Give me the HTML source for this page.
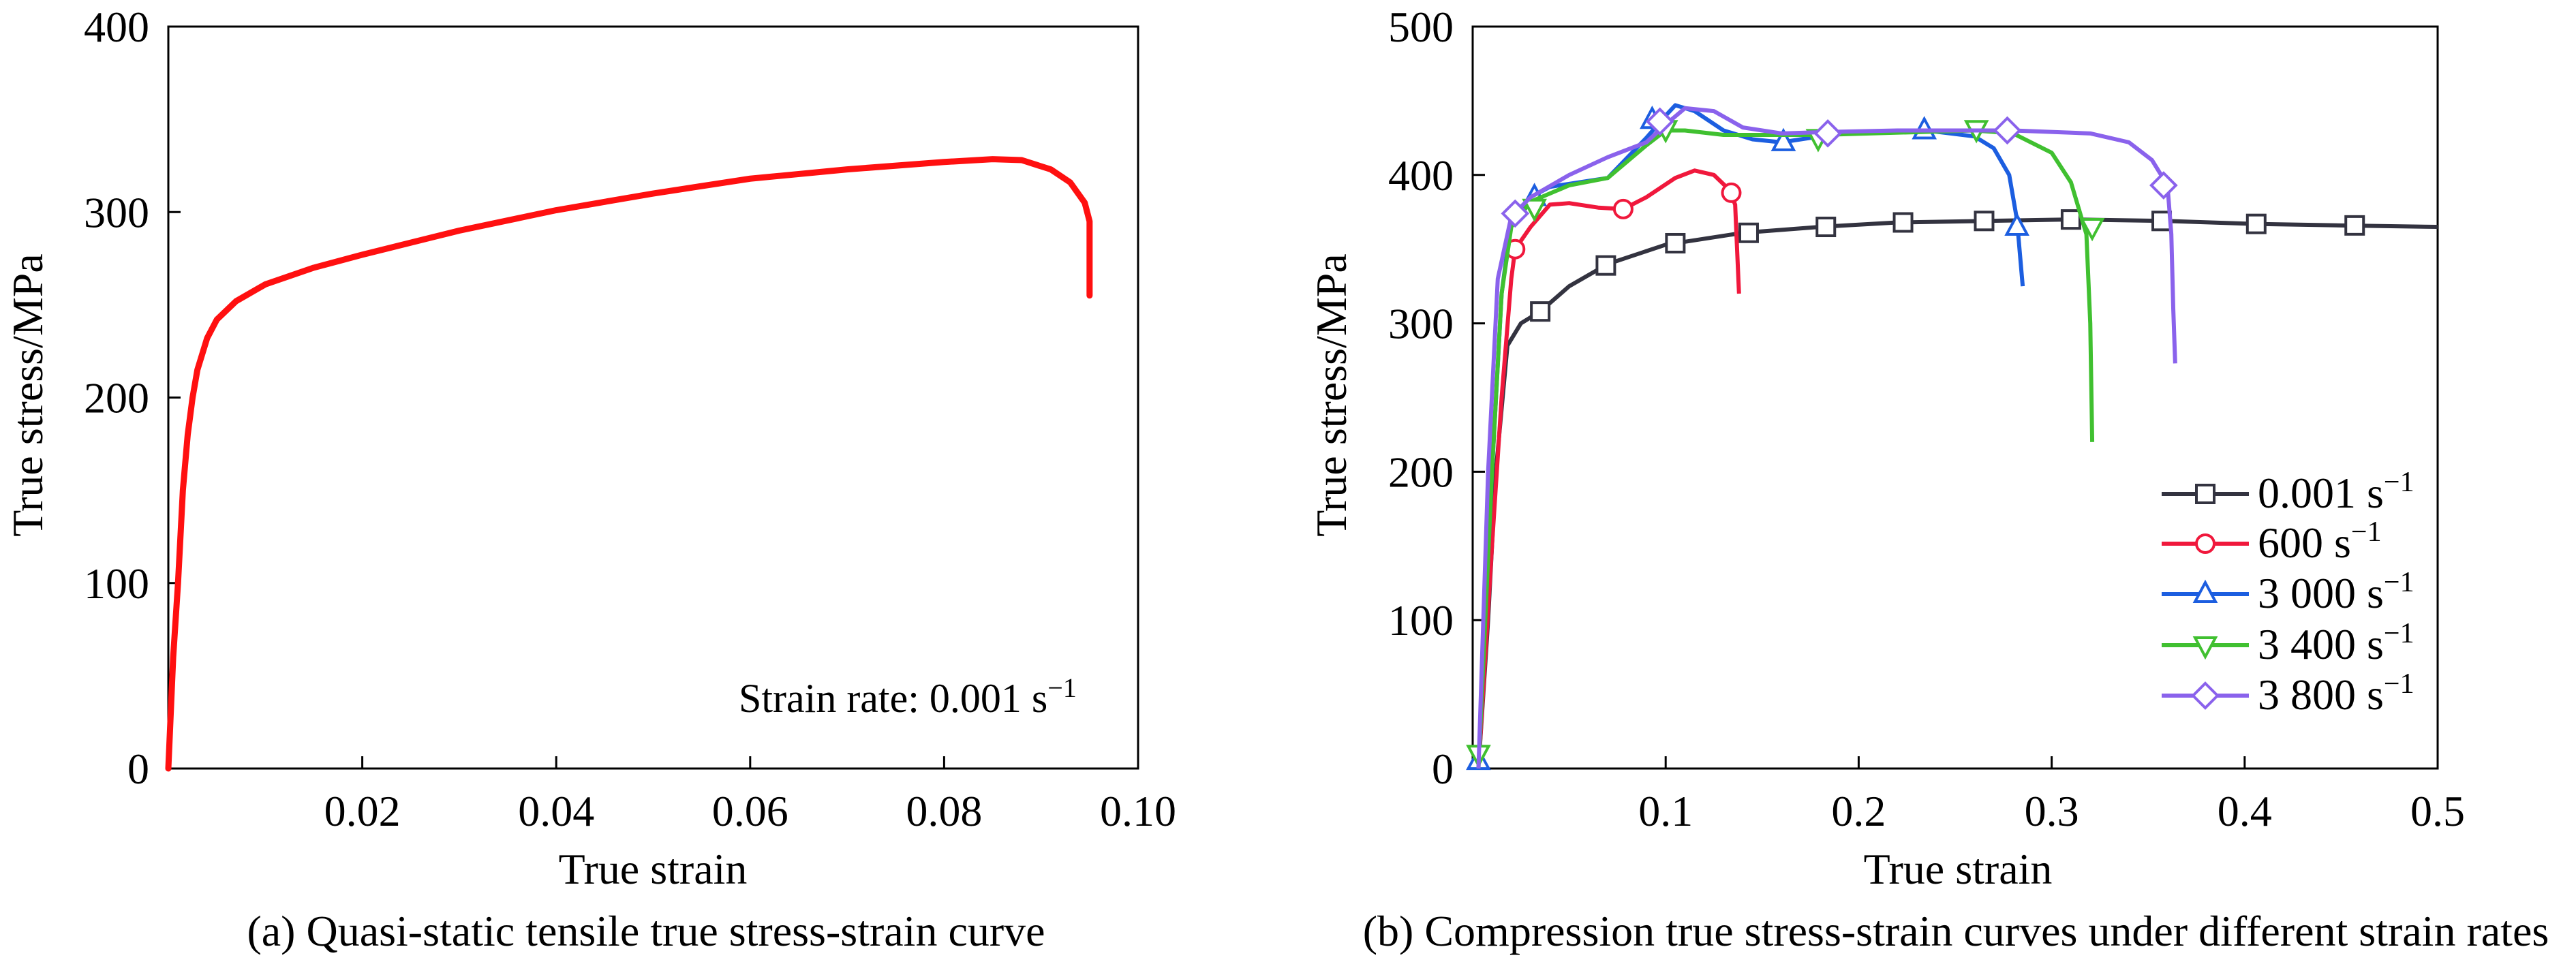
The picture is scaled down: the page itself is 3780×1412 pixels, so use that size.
<!DOCTYPE html>
<html><head><meta charset="utf-8"><style>
html,body{margin:0;padding:0;background:#fff;}
svg{display:block;font-family:"Liberation Serif",serif;}
</style></head><body>
<svg id="chart" width="3780" height="1412" viewBox="0 0 3780 1412" xmlns="http://www.w3.org/2000/svg">
<g id="pa"></g>
<g id="pb"></g>
</svg>
<script>
// ---- Chart (a) data ----
const aStrain = [0,0.0005,0.001,0.0015,0.002,0.0025,0.003,0.004,0.005,0.007,0.01,0.015,0.02,0.03,0.04,0.05,0.06,0.07,0.08,0.085,0.088,0.091,0.093,0.0945,0.095,0.095];
const aStress = [0,60,100,150,180,200,215,232,242,252,261,270,277,290,301,310,318,323,327,328.5,328,323,316,305,295,255];
const aXTicks = [0.02,0.04,0.06,0.08,0.10];
const aXTickLabels = ["0.02","0.04","0.06","0.08","0.10"];
const aYTicks = [0,100,200,300,400];

// ---- Chart (b) data ----
const bXTicks = [0.1,0.2,0.3,0.4,0.5];
const bXTickLabels = ["0.1","0.2","0.3","0.4","0.5"];
const bYTicks = [0,100,200,300,400,500];
const names = ["0.001","600","3 000","3 400","3 800"];
const colors = ["#333340","#f0183c","#1c5ee0","#40c030","#8a62ec"];
const shapes = ["square","circle","up","down","diamond"];
const s1x=[0.003,0.008,0.012,0.018,0.025,0.035,0.05,0.07,0.1,0.14,0.18,0.22,0.265,0.31,0.36,0.405,0.45,0.5];
const s1y=[0,100,200,285,300,308,325,340,353,361,365,368,369,370,369,367,366,365];
const m1x=[0.035,0.069,0.105,0.143,0.183,0.223,0.265,0.31,0.357,0.406,0.457];
const m1y=[308,339,354,361,365,368,369,370,369,367,366];
const s2x=[0.003,0.01,0.015,0.02,0.022,0.03,0.04,0.05,0.065,0.078,0.09,0.105,0.115,0.125,0.133,0.136,0.137,0.138];
const s2y=[0,150,250,330,350,365,380,381,378,377,385,398,403,400,390,380,350,320];
const m2x=[0.022,0.078,0.134];
const m2y=[350,377,388];
const s3x=[0.003,0.01,0.015,0.02,0.03,0.04,0.07,0.09,0.1,0.105,0.115,0.13,0.145,0.16,0.18,0.2,0.235,0.26,0.27,0.278,0.282,0.284,0.285];
const s3y=[0,200,320,370,385,392,398,425,440,447,443,430,424,422,426,429,430,426,418,400,370,340,325];
const m3x=[0.003,0.032,0.093,0.161,0.234,0.282];
const m3y=[5,385,437,422,430,365];
const s4x=[0.003,0.01,0.015,0.02,0.03,0.05,0.07,0.09,0.1,0.11,0.13,0.18,0.26,0.28,0.3,0.31,0.318,0.32,0.321];
const s4y=[0,200,320,365,382,393,398,420,430,430,427,427,430,428,415,395,360,300,220];
const m4x=[0.003,0.032,0.1,0.179,0.261,0.321];
const m4y=[10,378,431,425,431,365];
const s5x=[0.003,0.008,0.013,0.02,0.03,0.05,0.07,0.09,0.1,0.11,0.125,0.14,0.16,0.185,0.22,0.28,0.32,0.34,0.352,0.36,0.362,0.363,0.364];
const s5y=[0,200,330,372,385,400,412,422,434,445,443,432,428,429,430,430,428,422,410,393,360,310,273];
const m5x=[0.022,0.097,0.184,0.277,0.358];
const m5y=[374,436,428,430,393];

const NS="http://www.w3.org/2000/svg";
function mk(parent,tag,attrs,text){const e=document.createElementNS(NS,tag);for(const k in attrs)e.setAttribute(k,attrs[k]);if(text!==undefined)e.textContent=text;parent.appendChild(e);return e;}

// ----- Chart (a) -----
const pa=document.getElementById('pa');
const aL=247,aR=1670,aT=39,aB=1128;
const ax=v=>aL+(v/0.1)*(aR-aL);
const ay=v=>aB-(v/400)*(aB-aT);
let e;
e=mk(pa,'rect',{x:aL,y:aT,width:aR-aL,height:aB-aT,fill:'none',stroke:'#000','stroke-width':3});


aXTicks.forEach((t,i)=>{
  e=mk(pa,'line',{x1:ax(t),x2:ax(t),y1:aB,y2:aB-18,stroke:'#000','stroke-width':3});
  
  
  e=mk(pa,'text',{x:ax(t),y:aB+84,'font-size':64,'text-anchor':'middle'},aXTickLabels[i]);
  
  
});
aYTicks.forEach(t=>{
  e=mk(pa,'line',{x1:aL,x2:aL+18,y1:ay(t),y2:ay(t),stroke:'#000','stroke-width':3});
  
  
  e=mk(pa,'text',{x:aL-28,y:ay(t)+22,'font-size':64,'text-anchor':'end'},String(t));
  
  
});
e=mk(pa,'polyline',{points:aStrain.map((s,i)=>ax(s)+','+ay(aStress[i])).join(' '),fill:'none',stroke:'#ff1010','stroke-width':9,'stroke-linejoin':'round','stroke-linecap':'round'});


e=mk(pa,'text',{x:1084,y:1045,'font-size':60},'Strain rate: 0.001 s');


mk(e,'tspan',{dy:-22,'font-size':40},'−1');
e=mk(pa,'text',{x:958,y:1297,'font-size':64,'text-anchor':'middle'},'True strain');


e=mk(pa,'text',{x:0,y:0,'font-size':64,'text-anchor':'middle',transform:'translate(62,580) rotate(-90)'},'True stress/MPa');


e=mk(pa,'text',{x:948,y:1388,'font-size':64,'text-anchor':'middle'},'(a) Quasi-static tensile true stress-strain curve');



// ----- Chart (b) -----
const pb=document.getElementById('pb');
const bL=2161,bR=3577,bT=39,bB=1128;
const bx=v=>bL+(v/0.5)*(bR-bL);
const by=v=>bB-(v/500)*(bB-bT);
e=mk(pb,'rect',{x:bL,y:bT,width:bR-bL,height:bB-bT,fill:'none',stroke:'#000','stroke-width':3});


bXTicks.forEach((t,i)=>{
  e=mk(pb,'line',{x1:bx(t),x2:bx(t),y1:bB,y2:bB-18,stroke:'#000','stroke-width':3});
  
  
  e=mk(pb,'text',{x:bx(t),y:bB+84,'font-size':64,'text-anchor':'middle'},bXTickLabels[i]);
  
  
});
bYTicks.forEach(t=>{
  e=mk(pb,'line',{x1:bL,x2:bL+18,y1:by(t),y2:by(t),stroke:'#000','stroke-width':3});
  
  
  e=mk(pb,'text',{x:bL-28,y:by(t)+22,'font-size':64,'text-anchor':'end'},String(t));
  
  
});
function marker(g,shape,cx,cy,color){
  const r=13;let m;
  if(shape==='square') m=mk(g,'rect',{x:cx-r,y:cy-r,width:2*r,height:2*r});
  else if(shape==='circle') m=mk(g,'circle',{cx:cx,cy:cy,r:r});
  else if(shape==='up') m=mk(g,'polygon',{points:`${cx},${cy-r-4} ${cx-r-2},${cy+r-2} ${cx+r+2},${cy+r-2}`});
  else if(shape==='down') m=mk(g,'polygon',{points:`${cx},${cy+r+4} ${cx-r-2},${cy-r+2} ${cx+r+2},${cy-r+2}`});
  else m=mk(g,'polygon',{points:`${cx},${cy-r-5} ${cx+r+5},${cy} ${cx},${cy+r+5} ${cx-r-5},${cy}`});
  m.setAttribute('fill','#fff');m.setAttribute('stroke',color);m.setAttribute('stroke-width',4);
  return m;
}
const SX=[s1x,s2x,s3x,s4x,s5x],SY=[s1y,s2y,s3y,s4y,s5y],MX=[m1x,m2x,m3x,m4x,m5x],MY=[m1y,m2y,m3y,m4y,m5y];
for(let k=0;k<5;k++){
  const g=mk(pb,'g',{});
  
  
  e=mk(g,'polyline',{points:SX[k].map((s,i)=>bx(s)+','+by(SY[k][i])).join(' '),fill:'none',stroke:colors[k],'stroke-width':6,'stroke-linejoin':'round'});
  
  
  MX[k].forEach((s,i)=>{
    const m=marker(g,shapes[k],bx(s),by(MY[k][i]),colors[k]);
    
    
  });
}
// legend
const lg=mk(pb,'g',{});


const rowY=[725,798,872,947,1021];
for(let k=0;k<5;k++){
  const g=mk(lg,'g',{});
  
  
  mk(g,'line',{x1:3172,x2:3300,y1:rowY[k],y2:rowY[k],stroke:colors[k],'stroke-width':6});
  marker(g,shapes[k],3236,rowY[k],colors[k]);
  const t=mk(g,'text',{x:3313,y:rowY[k]+20,'font-size':64},names[k]+' s');
  mk(t,'tspan',{dy:-24,'font-size':42},'−1');
}
e=mk(pb,'text',{x:2873,y:1297,'font-size':64,'text-anchor':'middle'},'True strain');


e=mk(pb,'text',{x:0,y:0,'font-size':64,'text-anchor':'middle',transform:'translate(1975,580) rotate(-90)'},'True stress/MPa');


e=mk(pb,'text',{x:2870,y:1388,'font-size':64,'text-anchor':'middle'},'(b) Compression true stress-strain curves under different strain rates');


</script>
</body></html>
